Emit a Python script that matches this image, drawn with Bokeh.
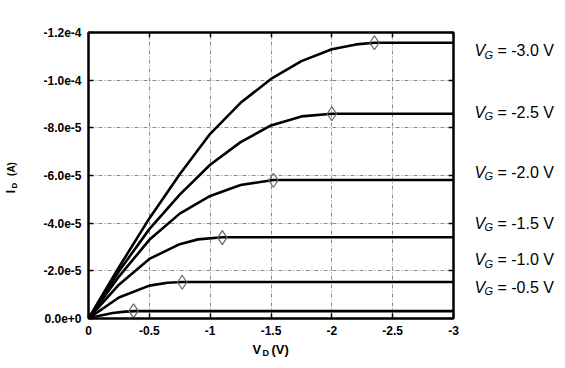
import math
from bokeh.plotting import figure
from bokeh.layouts import row, column
from bokeh.models import Range1d, FixedTicker, LinearAxis, CustomJSTickFormatter
from bokeh.core.properties import value
from bokeh.embed import file_html
from bokeh.resources import INLINE

# ---------------- data ----------------
x_ticks = [0, -0.5, -1.0, -1.5, -2.0, -2.5, -3.0]
y_ticks = [0, -2e-5, -4e-5, -6e-5, -8e-5, -1e-4, -1.2e-4]

vg_names = ["-3.0", "-2.5", "-2.0", "-1.5", "-1.0", "-0.5"]

vd_m30 = [0, -0.25, -0.5, -0.75, -1.0, -1.25, -1.5, -1.75, -2.0, -2.2, -2.35, -3.0]
id_m30 = [0, -2.15e-5, -4.2e-5, -6.05e-5, -7.75e-5, -9.05e-5, -10.05e-5, -10.8e-5, -11.3e-5, -11.5e-5, -11.57e-5, -11.57e-5]

vd_m25 = [0, -0.25, -0.5, -0.75, -1.0, -1.25, -1.5, -1.75, -2.0, -3.0]
id_m25 = [0, -1.98e-5, -3.75e-5, -5.2e-5, -6.45e-5, -7.4e-5, -8.1e-5, -8.48e-5, -8.59e-5, -8.59e-5]

vd_m20 = [0, -0.25, -0.5, -0.75, -1.0, -1.25, -1.52, -3.0]
id_m20 = [0, -1.76e-5, -3.3e-5, -4.4e-5, -5.14e-5, -5.6e-5, -5.81e-5, -5.81e-5]

vd_m15 = [0, -0.25, -0.5, -0.75, -0.9, -1.1, -3.0]
id_m15 = [0, -1.42e-5, -2.5e-5, -3.12e-5, -3.32e-5, -3.41e-5, -3.41e-5]

vd_m10 = [0, -0.25, -0.5, -0.65, -0.77, -3.0]
id_m10 = [0, -0.88e-5, -1.38e-5, -1.5e-5, -1.53e-5, -1.53e-5]

vd_m05 = [0, -0.1, -0.2, -0.3, -0.38, -3.0]
id_m05 = [0, -0.13e-5, -0.23e-5, -0.29e-5, -0.31e-5, -0.31e-5]

sat_vd = [-0.37, -0.77, -1.10, -1.52, -2.0, -2.35]
sat_id = [-0.32e-5, -1.52e-5, -3.39e-5, -5.80e-5, -8.59e-5, -11.57e-5]

# ---------------- layout constants (page pixels) ----------------
LEFT_W, MAIN_W, RIGHT_W = 20, 445, 92
TOP_H, BOT_H = 340, 20
FL, FT, FW, FH = 88, 32, 365, 286          # plot frame in page pixels
XR = (0, -3.0)
YR = (0, -1.2e-4)
font = "Liberation Sans"

p = figure(width=MAIN_W, height=TOP_H,
           x_range=Range1d(*XR), y_range=Range1d(*YR),
           output_backend="svg", toolbar_location=None,
           min_border_left=FL - LEFT_W, min_border_right=MAIN_W - (FL - LEFT_W) - FW,
           min_border_top=FT, min_border_bottom=TOP_H - FT - FH,
           background_fill_color="white", border_fill_color="white")

p.outline_line_color = "black"
p.outline_line_width = 2

xfmt = CustomJSTickFormatter(code="return tick == 0 ? '0' : String(tick);")
yfmt = CustomJSTickFormatter(code="return tick.toExponential(1);")
blank = CustomJSTickFormatter(code="return '';")


def style_axis(ax, ticks, fmt, standoff):
    ax.ticker = FixedTicker(ticks=ticks)
    ax.formatter = fmt
    ax.major_tick_in = 5
    ax.major_tick_out = 0
    ax.major_tick_line_width = 1.5
    ax.major_tick_line_color = "black"
    ax.minor_tick_line_color = None
    ax.axis_line_width = 2
    ax.axis_line_color = "black"
    ax.major_label_text_font = font
    ax.major_label_text_font_style = "bold"
    ax.major_label_text_font_size = "12px"
    ax.major_label_text_color = "black"
    ax.major_label_standoff = standoff


style_axis(p.xaxis[0], x_ticks, xfmt, 7)
style_axis(p.yaxis[0], y_ticks, yfmt, 7)

top = LinearAxis()
style_axis(top, x_ticks, blank, 0)
p.add_layout(top, "above")
right = LinearAxis()
style_axis(right, y_ticks, blank, 0)
p.add_layout(right, "right")

for g in (p.xgrid[0], p.ygrid[0]):
    g.grid_line_color = "#8a8a8a"
    g.grid_line_width = 1
    g.grid_line_dash = "4 2 1 2"
p.xgrid[0].ticker = FixedTicker(ticks=x_ticks)
p.ygrid[0].ticker = FixedTicker(ticks=y_ticks)

curves = [(vd_m30, id_m30), (vd_m25, id_m25), (vd_m20, id_m20),
          (vd_m15, id_m15), (vd_m10, id_m10), (vd_m05, id_m05)]
for vd, idd in curves:
    p.line(vd, idd, line_color="black", line_width=2.6, line_join="round")

p.scatter(sat_vd, sat_id, marker="diamond", size=14, fill_alpha=0,
          line_color="#666666", line_width=1.2)


# ---------------- text panels (coordinates = page pixels, y measured down) ----------------
def text_panel(x0, y0, w, h, top=0, bottom=0):
    # frame spans page rows y0+top .. y0+h-bottom
    f = figure(width=w, height=h, x_range=Range1d(x0, x0 + w),
               y_range=Range1d(-(y0 + h - bottom), -(y0 + top)),
               x_axis_type=None, y_axis_type=None, min_border=0,
               min_border_left=0, min_border_right=0,
               min_border_top=top, min_border_bottom=bottom,
               output_backend="svg", toolbar_location=None,
               background_fill_color="white", border_fill_color="white")
    f.outline_line_color = None
    return f


def put(f, xs, ys, texts, size, style="normal", align="left", angle=0.0):
    f.text(x=xs, y=[-v for v in ys], text=texts, text_font=value(font),
           text_font_size=value(size), text_font_style=value(style),
           text_align=value(align), text_baseline=value("middle"),
           text_color="black", angle=angle)


# right: V_G labels (frame aligned with the main plot frame)
right_fig = text_panel(LEFT_W + MAIN_W, 0, RIGHT_W, TOP_H, FT, TOP_H - FT - FH)
label_py = [50, 111.7, 171.7, 222.7, 259.3, 286.7]
n = len(vg_names)
put(right_fig, [474] * n, label_py, ["V"] * n, "16px", "italic")
put(right_fig, [484] * n, [y + 4 for y in label_py], ["G"] * n, "11px", "italic")
put(right_fig, [497] * n, label_py, ["= " + s + " V" for s in vg_names], "16px")

# left: I_D (A), rotated
left_fig = text_panel(0, 0, LEFT_W, TOP_H, FT, TOP_H - FT - FH)
put(left_fig, [10], [191], ["I"], "12px", "bold", "center", math.pi / 2)
put(left_fig, [14], [185], ["D"], "8px", "bold", "center", math.pi / 2)
put(left_fig, [10.5], [168.5], ["(A)"], "10px", "bold", "center", math.pi / 2)

# bottom: V_D (V)
bottom_fig = text_panel(0, TOP_H, LEFT_W + MAIN_W + RIGHT_W, BOT_H)
put(bottom_fig, [252], [349], ["V"], "13px", "bold")
put(bottom_fig, [262], [352.5], ["D"], "9px", "bold")
put(bottom_fig, [271], [349], ["(V)"], "13px", "bold")

layout = column(row(left_fig, p, right_fig, spacing=0), bottom_fig, spacing=0)

open("out.html", "w").write(file_html(layout, INLINE))
